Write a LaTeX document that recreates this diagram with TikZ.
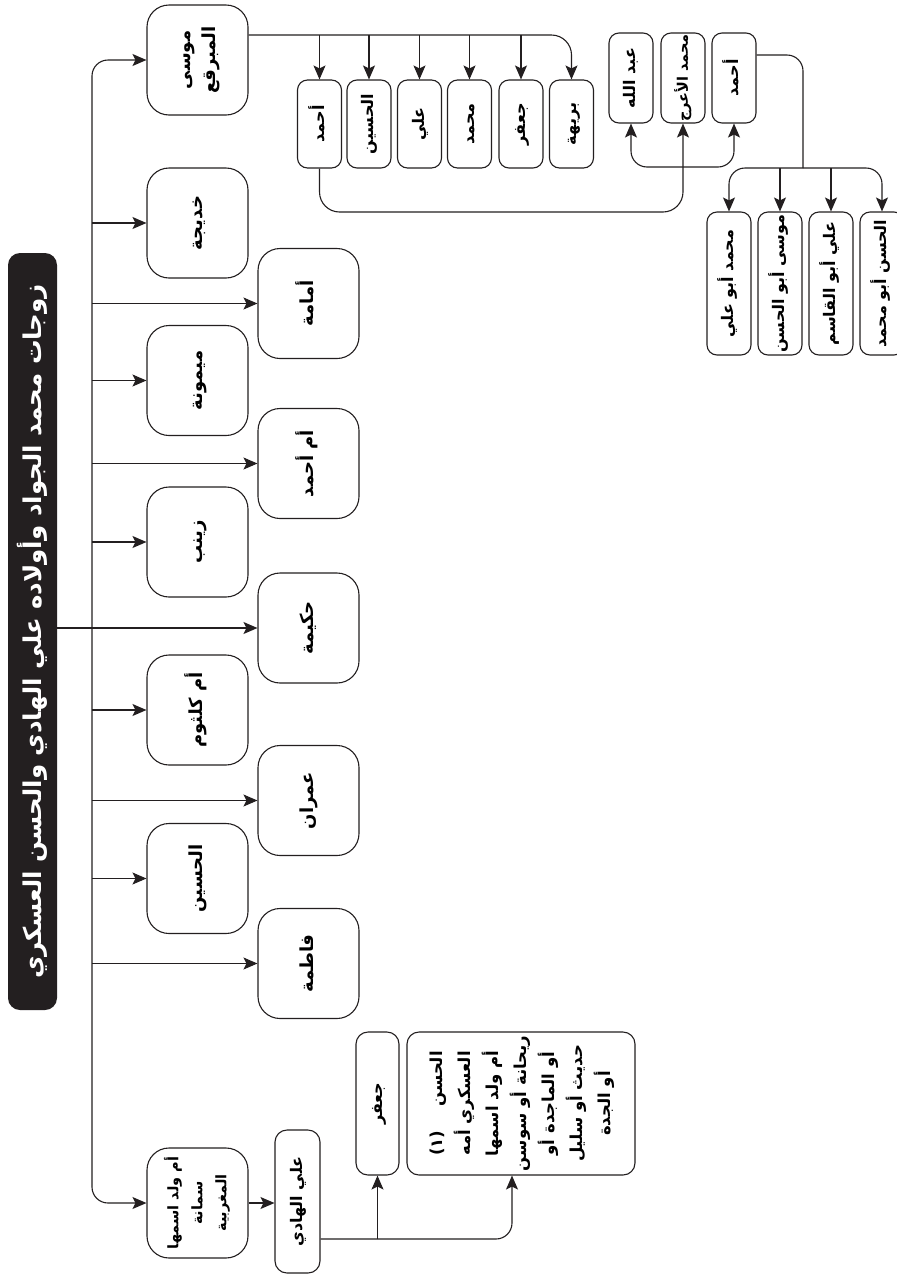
\documentclass[tikz,border=0pt]{standalone}
\usepackage{fontspec}
\usepackage{graphicx}
\TeXXeTstate=1
\newfontfamily\ar[Script=Arabic]{DejaVu Sans}
\usetikzlibrary{arrows.meta}
\definecolor{ink}{HTML}{231F20}
\newcommand{\vt}[1]{\rotatebox{90}{\begin{tabular}{@{}c@{}}#1\end{tabular}}}
\newcommand{\R}[1]{\beginR #1\endR}
\tikzset{
  bx/.style={draw=ink, line width=1.1pt, rounded corners=22pt, minimum width=101pt,
    minimum height=110pt, inner sep=0pt, font=\ar\bfseries\fontsize{18}{25}\selectfont},
  sb/.style={draw=ink, line width=1.1pt, rounded corners=10pt, minimum width=44pt,
    inner sep=0pt, font=\ar\bfseries\fontsize{16}{24}\selectfont},
  arr/.style={draw=ink, line width=1.1pt, -{Stealth[length=14pt,width=12pt,inset=3pt]}},
  arrb/.style={draw=ink, line width=1.1pt, {Stealth[length=14pt,width=12pt,inset=3pt]}-{Stealth[length=14pt,width=12pt,inset=3pt]}},
  ln/.style={draw=ink, line width=1.1pt},
}
\begin{document}
\begin{tikzpicture}[x=1pt,y=-1pt]
\fill[white] (0,0) rectangle (897,1275);
\useasboundingbox (0,0) rectangle (897,1275);

% title
\node[fill=ink, rounded corners=12pt, minimum width=49pt, minimum height=757pt, inner sep=0pt,
  text=white, font=\ar\bfseries\fontsize{24.5}{28}\selectfont] (title) at (32.5,631.5)
  {\rotatebox{90}{\R{زوجات محمد الجواد وأولاده علي الهادي والحسن العسكري}}};

% wives / children of al-Jawad
\node[bx] (musa)      at (197.5,60)    {\vt{\R{موسى}\\\R{المبرقع}}};
\node[bx] (khadija)   at (197.5,223)   {\vt{\R{خديجة}}};
\node[bx] (umama)     at (308.5,303.5) {\vt{\R{أمامة}}};
\node[bx] (maymuna)   at (197.5,380.5) {\vt{\R{ميمونة}}};
\node[bx] (umahmad)   at (308.5,463.5) {\vt{\R{أم أحمد}}};
\node[bx] (zaynab)    at (197.5,542)   {\vt{\R{زينب}}};
\node[bx] (hakima)    at (308.5,628)   {\vt{\R{حكيمة}}};
\node[bx] (umkulthum) at (197.5,710)   {\vt{\R{أم كلثوم}}};
\node[bx] (imran)     at (308.5,800.5) {\vt{\R{عمران}}};
\node[bx] (husayn)    at (197.5,878.5) {\vt{\R{الحسين}}};
\node[bx] (fatima)    at (308.5,963.5) {\vt{\R{فاطمة}}};
\node[bx, font=\ar\bfseries\fontsize{14.5}{24}\selectfont] (umwalad) at (197.5,1203)
  {\vt{\R{أم ولد اسمها}\\\R{سمانة}\\\R{المغربية}}};

% Ali al-Hadi and his sons
\node[sb, minimum width=45pt, minimum height=143pt, rounded corners=12pt] (alihadi) at (297.5,1201.5) {\vt{\R{علي الهادي}}};
\node[sb, minimum width=43pt, minimum height=143pt, rounded corners=12pt] (jafar2) at (377.5,1103.5) {\vt{\R{جعفر}}};
\node[draw=ink, line width=1.1pt, rounded corners=12pt, minimum width=228pt, minimum height=143pt,
  inner sep=0pt, font=\ar\bfseries\fontsize{16.5}{28}\selectfont] (hasan) at (521,1103.5)
  {\vt{\R{الحسن\hspace{24pt}\beginL(١)\endL}\\\R{العسكري أمه}\\\R{أم ولد اسمها}\\\R{ريحانة أو سوسن}\\\R{أو الماجدة أو}\\\R{حديث أو سليل}\\\R{أو الجدة}}};

% sons of Musa al-Mubarqa
\node[sb, minimum height=88pt] (m1) at (319.5,124) {\vt{\R{أحمد}}};
\node[sb, minimum height=88pt] (m2) at (369,124)   {\vt{\R{الحسين}}};
\node[sb, minimum height=88pt] (m3) at (419.5,124) {\vt{\R{علي}}};
\node[sb, minimum height=88pt] (m4) at (469.5,124) {\vt{\R{محمد}}};
\node[sb, minimum height=88pt] (m5) at (521,124)   {\vt{\R{جعفر}}};
\node[sb, minimum height=88pt] (m6) at (571.5,124) {\vt{\R{بريهة}}};

% next generation
\node[sb, minimum height=90pt] (a1) at (631,78) {\vt{\R{عبد الله}}};
\node[sb, minimum height=90pt, font=\ar\bfseries\fontsize{14.5}{24}\selectfont] (a2) at (683,78) {\vt{\R{محمد الأعرج}}};
\node[sb, minimum height=90pt] (a3) at (734,78) {\vt{\R{أحمد}}};

\node[sb, minimum height=143pt] (s1) at (729,283.5) {\vt{\R{محمد أبو علي}}};
\node[sb, minimum height=143pt] (s2) at (780,283.5) {\vt{\R{موسى أبو الحسن}}};
\node[sb, minimum height=143pt] (s3) at (831,283.5) {\vt{\R{علي أبو القاسم}}};
\node[sb, minimum height=143pt] (s4) at (882,283.5) {\vt{\R{الحسن أبو محمد}}};

% ---- connectors ----
\coordinate (tj) at (92,628);
\draw[arr] (title.east |- hakima.west) -- (hakima.west);
\draw[arr, rounded corners=16pt] (tj) |- (musa.west);
\draw[arr, rounded corners=16pt] (tj) |- (umwalad.west);
\foreach \n in {khadija,umama,maymuna,umahmad,zaynab,umkulthum,imran,husayn,fatima}
  \draw[arr] (tj |- \n.west) -- (\n.west);

\draw[arr] (umwalad.east) -- (umwalad.east -| alihadi.west);
\coordinate (hb) at ([yshift=-37.5pt]alihadi.east);
\coordinate (hs) at ([xshift=-9pt]hasan.south);
\draw[arr, rounded corners=16pt] (hb) -| (hs);
\draw[arr] (hb -| jafar2.south) -- (jafar2.south);

\coordinate (ms) at ([yshift=25pt]musa.east);
\draw[arr, rounded corners=20pt] (ms) -| (m6.north);
\foreach \n in {m1,m2,m3,m4,m5}
  \draw[arr] (ms -| \n.north) -- (\n.north);

\coordinate (ah) at (500,212);
\draw[arr, rounded corners=20pt] (m1.south) |- (ah) -| (a2.south);
\coordinate (j3) at (683,167);
\draw[arrb, rounded corners=16pt] (a1.south) |- (j3) -| (a3.south);

\coordinate (j2) at (803,168);
\draw[ln, rounded corners=16pt] ([yshift=23pt]a3.east) -| (j2);
\draw[arr, rounded corners=16pt] (j2) -| (s1.north);
\draw[arr, rounded corners=16pt] (j2) -| (s4.north);
\draw[arr] (j2 -| s2.north) -- (s2.north);
\draw[arr] (j2 -| s3.north) -- (s3.north);
\end{tikzpicture}
\end{document}
